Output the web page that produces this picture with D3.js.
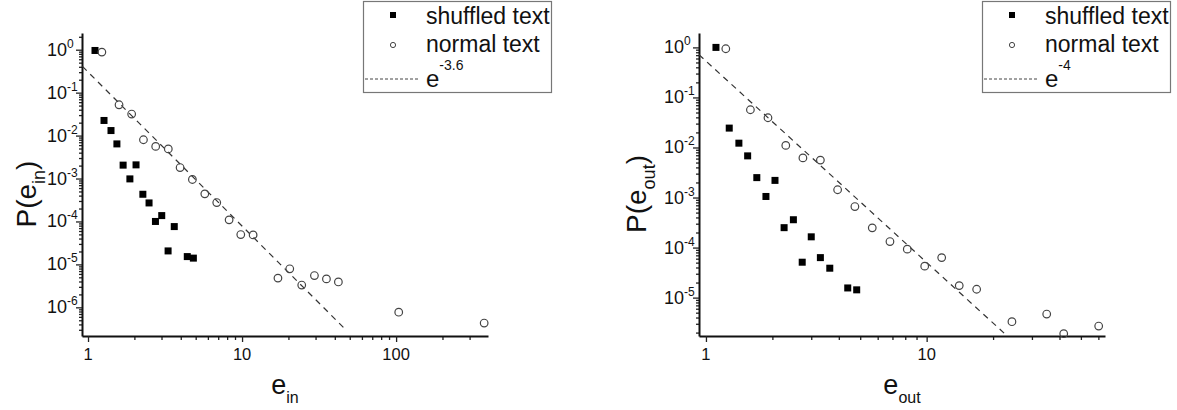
<!DOCTYPE html>
<html>
<head>
<meta charset="utf-8">
<script src="https://cdn.jsdelivr.net/npm/d3@7"></script>
<style>
  body { margin: 0; background: #fff; }
  text { font-family: "Liberation Sans", Arial, sans-serif; fill: #111; }
</style>
</head>
<body>
<svg id="svg" width="1177" height="410"></svg>
<script>
// values: [e, P(e)]
const shuffledIn = [[1.11,0.96],[1.27,0.0225],[1.41,0.0131],[1.54,0.0064],[1.69,0.00205],[2.05,0.00208],
  [1.87,0.00098],[2.27,0.00043],[2.49,0.00027],[2.74,0.0001],[3.01,0.000137],[3.63,0.000076],
  [3.31,0.0000206],[4.41,0.0000152],[4.83,0.000014]];
const normalIn = [[1.23,0.88],[1.59,0.0522],[1.92,0.0317],[2.29,0.008],[2.75,0.0056],[3.32,0.0049],
  [3.96,0.0018],[4.76,0.00095],[5.73,0.00044],[6.85,0.000276],[8.24,0.000109],[9.81,0.0000495],
  [11.8,0.0000487],[17.1,0.0000048],[20.4,0.0000079],[24.4,0.0000033],[29.5,0.0000055],
  [35.3,0.0000046],[42.2,0.0000039],[104,7.7e-7],[373,4.3e-7]];
const shuffledOut = [[1.11,1.0],[1.275,0.0244],[1.41,0.0122],[1.545,0.0068],[1.70,0.0025],[2.055,0.0022],
  [1.87,0.00105],[2.26,0.00025],[2.49,0.00036],[3.0,0.000164],[2.73,0.000051],[3.30,0.000063],
  [3.64,0.0000387],[4.39,0.0000156],[4.82,0.0000143]];
const normalOut = [[1.23,0.94],[1.59,0.0568],[1.91,0.0393],[2.30,0.011],[2.75,0.0062],[3.30,0.0056],
  [3.95,0.00143],[4.73,0.00066],[5.67,0.000248],[6.82,0.000132],[8.17,0.000093],[9.8,0.0000425],
  [11.7,0.000063],[14.05,0.0000174],[16.85,0.0000147],[24.35,0.0000033],[35.0,0.0000047],
  [41.8,0.0000019],[60.2,0.0000027]];

// dashed fit lines, end points as seen in the picture
const fitIn = [[0.92,0.408],[47.3,2.97e-7]];
const fitOut = [[0.93,0.714],[22.9,1.8e-6]];

// tick labels
const xLabelsIn = [1, 10, 100];
const xLabelsOut = [1, 10];
const yExpIn = [0, -1, -2, -3, -4, -5, -6];
const yExpOut = [0, -1, -2, -3, -4, -5];

const legendNames = ["shuffled text", "normal text"];

const panels = [
  {left: 82, right: 488, top: 33, bottom: 336, xDomain: [0.914, 395], yDomain: [2.15e-7, 2.45],
   shuffled: shuffledIn, normal: normalIn, fit: fitIn, xLabels: xLabelsIn, yExp: yExpIn,
   sub: "in", fitExp: "-3.6", legendX: 363, yLabelX: 36},
  {left: 699, right: 1105, top: 33, bottom: 336, xDomain: [0.93, 64.3], yDomain: [1.71e-6, 1.94],
   shuffled: shuffledOut, normal: normalOut, fit: fitOut, xLabels: xLabelsOut, yExp: yExpOut,
   sub: "out", fitExp: "-4", legendX: 982, yLabelX: 646}
];

const svg = d3.select("#svg");

function minorTicks(domain) {
  const out = [];
  const lo = Math.floor(Math.log10(domain[0])), hi = Math.ceil(Math.log10(domain[1]));
  for (let d = lo; d <= hi; d++) {
    for (let k = 2; k <= 9; k++) {
      const v = k * Math.pow(10, d);
      if (v >= domain[0] && v <= domain[1]) out.push(v);
    }
  }
  return out;
}

panels.forEach((p, i) => {
  const g = svg.append("g");

  const x = d3.scaleLog().domain(p.xDomain).range([p.left, p.right]);
  const y = d3.scaleLog().domain(p.yDomain).range([p.bottom, p.top]);

  g.append("clipPath").attr("id", "clip" + i)
    .append("rect")
    .attr("x", p.left).attr("y", p.top)
    .attr("width", p.right - p.left).attr("height", p.bottom - p.top);

  // axes: minor ticks first, then the major ones with the axis line
  g.append("g").attr("transform", `translate(0,${p.bottom})`)
    .call(d3.axisBottom(x).tickValues(minorTicks(p.xDomain)).tickSize(4).tickSizeOuter(0).tickFormat(""))
    .call(a => a.select(".domain").remove());
  g.append("g").attr("transform", `translate(0,${p.bottom})`)
    .call(d3.axisBottom(x).tickValues(p.xLabels).tickSize(6).tickSizeOuter(0).tickFormat(""));

  g.append("g").attr("transform", `translate(${p.left},0)`)
    .call(d3.axisLeft(y).tickValues(minorTicks(p.yDomain)).tickSize(3).tickSizeOuter(0).tickFormat(""))
    .call(a => a.select(".domain").remove());
  g.append("g").attr("transform", `translate(${p.left},0)`)
    .call(d3.axisLeft(y).tickValues(p.yExp.map(e => Math.pow(10, e))).tickSize(6).tickSizeOuter(0).tickFormat(""));

  g.selectAll(".tick line").attr("stroke", "#222").attr("stroke-width", 1.3);
  g.selectAll(".domain").attr("stroke", "#111").attr("stroke-width", 2);

  // x tick labels
  g.selectAll(".xlab").data(p.xLabels).join("text")
    .attr("class", "xlab")
    .attr("x", d => x(d)).attr("y", p.bottom + 24)
    .attr("text-anchor", "middle").attr("font-size", 16.5)
    .text(d => d);

  // y tick labels 10^n
  const yl = g.selectAll(".ylab").data(p.yExp).join("text")
    .attr("class", "ylab")
    .attr("x", p.left - 35).attr("y", d => y(Math.pow(10, d)) + 6)
    .attr("font-size", 18);
  yl.append("tspan").text("10");
  yl.append("tspan").attr("dy", -8).attr("font-size", 12).text(d => d);

  // axis titles
  const xt = g.append("text")
    .attr("x", (p.left + p.right) / 2).attr("y", 394)
    .attr("text-anchor", "middle").attr("font-size", 27);
  xt.append("tspan").text("e");
  xt.append("tspan").attr("dy", 9).attr("font-size", 16).text(p.sub);

  const yt = g.append("text")
    .attr("transform", `translate(${p.yLabelX},194) rotate(-90)`)
    .attr("text-anchor", "middle").attr("font-size", 28);
  yt.append("tspan").text("P(e");
  yt.append("tspan").attr("dy", 9).attr("font-size", 18).text(p.sub);
  yt.append("tspan").attr("dy", -9).text(")");

  // fit line
  g.append("path")
    .attr("clip-path", `url(#clip${i})`)
    .attr("d", d3.line().x(d => x(d[0])).y(d => y(d[1]))(p.fit))
    .attr("fill", "none").attr("stroke", "#333").attr("stroke-width", 1.2)
    .attr("stroke-dasharray", "6,5");

  // points
  g.selectAll(".sq").data(p.shuffled).join("rect")
    .attr("class", "sq")
    .attr("x", d => x(d[0]) - 3.5).attr("y", d => y(d[1]) - 3.5)
    .attr("width", 7).attr("height", 7)
    .attr("fill", "#000");

  g.selectAll(".ci").data(p.normal).join("circle")
    .attr("class", "ci")
    .attr("cx", d => x(d[0])).attr("cy", d => y(d[1]))
    .attr("r", 3.8)
    .attr("fill", "none").attr("stroke", "#444").attr("stroke-width", 1.2);

  // legend
  const lg = g.append("g").attr("transform", `translate(${p.legendX},0)`);
  lg.append("rect").attr("x", 0.5).attr("y", 1.5).attr("width", 188).attr("height", 91)
    .attr("fill", "#fff").attr("stroke", "#777").attr("stroke-width", 1.2);
  lg.append("rect").attr("x", 27).attr("y", 12).attr("width", 6).attr("height", 6).attr("fill", "#000");
  lg.append("circle").attr("cx", 30).attr("cy", 45).attr("r", 2.6)
    .attr("fill", "none").attr("stroke", "#444").attr("stroke-width", 1);
  lg.append("line").attr("x1", 2).attr("x2", 55).attr("y1", 79).attr("y2", 79)
    .attr("stroke", "#444").attr("stroke-width", 1).attr("stroke-dasharray", "3,2");
  lg.selectAll(".ln").data(legendNames).join("text")
    .attr("class", "ln")
    .attr("x", 63).attr("y", (d, k) => 24 + k * 28)
    .attr("font-size", 23)
    .text(d => d);
  const le = lg.append("text").attr("x", 63).attr("y", 87).attr("font-size", 24);
  le.append("tspan").text("e");
  le.append("tspan").attr("dy", -17).attr("font-size", 14).text(p.fitExp);
});
</script>
</body>
</html>
